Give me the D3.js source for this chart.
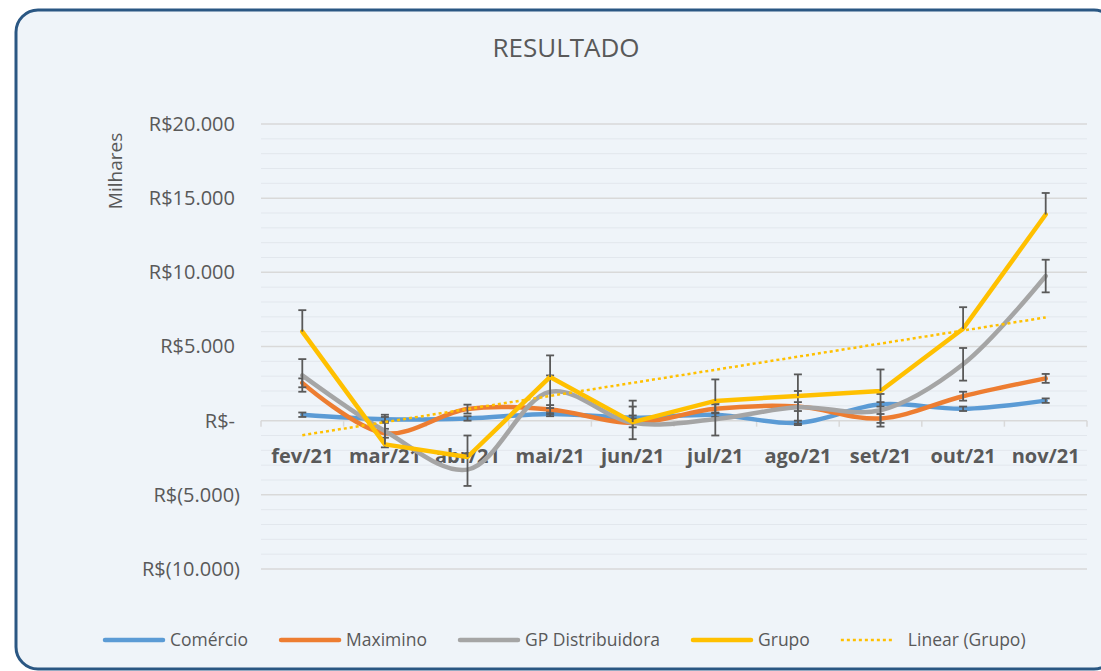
<!DOCTYPE html>
<html>
<head>
<meta charset="utf-8">
<script src="https://cdn.jsdelivr.net/npm/d3@7"></script>
<style>
  html, body { margin: 0; padding: 0; background: #fff; }
  svg { display: block; font-family: "Open Sans", sans-serif; }
</style>
</head>
<body>
<svg id="chart" width="1101" height="671"></svg>
<script>
// ==== DATA ====
const months = ["fev/21", "mar/21", "abr/21", "mai/21", "jun/21", "jul/21", "ago/21", "set/21", "out/21", "nov/21"];
const seriesNames = ["Comércio", "Maximino", "GP Distribuidora", "Grupo"];
const comercio = [400, 100, 150, 450, 200, 400, -150, 1100, 800, 1350];
const maximino = [2550, -850, 780, 750, -150, 800, 950, 150, 1650, 2850];
const gpDistribuidora = [3050, -700, -3300, 1950, -150, 100, 900, 700, 3800, 9750];
const grupo = [6000, -1600, -2450, 2950, -100, 1330, 1670, 2000, 6200, 13900];
const errPlus = [150, 300, 1100, 1450];
const errMinus = [150, 300, 1100, 0];
const yTicks = [-10000, -5000, 0, 5000, 10000, 15000, 20000];
const yMinorTicks = d3.range(-10000, 20001, 1000);

// ==== STYLE ====
const colors = ["#5b9bd5", "#ed7d31", "#a5a5a5", "#ffc000"];
const smooth = [true, true, true, false];
const textColor = "#595959";

const svg = d3.select("#chart");
const W = 1101, H = 671;
const plot = { left: 261, right: 1087, top: 124, bottom: 569 };

svg.append("rect").attr("width", W).attr("height", H).attr("fill", "#fff");
svg.append("rect")
  .attr("x", 16).attr("y", 10)
  .attr("width", 1100).attr("height", 659)
  .attr("rx", 22).attr("ry", 22)
  .attr("fill", "#eff4f9")
  .attr("stroke", "#2a5783")
  .attr("stroke-width", 3);

const x = d3.scaleBand().domain(months).range([plot.left, plot.right]).padding(0);
const cx = m => x(m) + x.bandwidth() / 2;
const y = d3.scaleLinear().domain([-10000, 20000]).range([plot.bottom, plot.top]);

// gridlines
svg.append("g").selectAll("line")
  .data(yMinorTicks.filter(v => v % 5000 !== 0))
  .join("line")
  .attr("x1", plot.left).attr("x2", plot.right)
  .attr("y1", d => y(d)).attr("y2", d => y(d))
  .attr("stroke", "#e2e7ed").attr("stroke-width", 1);

svg.append("g").selectAll("line")
  .data(yTicks.filter(v => v !== 0))
  .join("line")
  .attr("x1", plot.left).attr("x2", plot.right)
  .attr("y1", d => y(d)).attr("y2", d => y(d))
  .attr("stroke", "#d9d9d9").attr("stroke-width", 1.5);

// y labels
function fmtReal(v) {
  if (v === 0) return "R$-";
  const s = d3.format(",")(Math.abs(v)).replace(/,/g, ".");
  return v < 0 ? `R$(${s})` : `R$${s}`;
}
const yAxis = d3.axisLeft(y).tickValues(yTicks).tickFormat(fmtReal).tickSize(0).tickPadding(0);
const yAxisG = svg.append("g").attr("transform", `translate(${plot.left - 26},0)`).call(yAxis);
yAxisG.select(".domain").remove();
yAxisG.selectAll("text")
  .attr("fill", textColor)
  .style("font-size", "20px")
  .style("font-family", "'Open Sans', sans-serif")
  .attr("dx", d => d < 0 ? 5 : 0);

svg.append("text")
  .attr("transform", "translate(122,171) rotate(-90)")
  .attr("text-anchor", "middle")
  .attr("fill", textColor)
  .style("font-size", "19px")
  .text("Milhares");

// x axis at zero
const xAxisG = svg.append("g").attr("transform", `translate(0,${y(0)})`);
xAxisG.append("line")
  .attr("x1", plot.left).attr("x2", plot.right)
  .attr("stroke", "#d9d9d9").attr("stroke-width", 1.5);
xAxisG.selectAll("line.tick")
  .data(months.concat(["end"]))
  .join("line")
  .attr("class", "tick")
  .attr("x1", (d, i) => plot.left + i * x.bandwidth())
  .attr("x2", (d, i) => plot.left + i * x.bandwidth())
  .attr("y1", 0).attr("y2", 6)
  .attr("stroke", "#d9d9d9").attr("stroke-width", 1.5);

svg.append("g").selectAll("text")
  .data(months)
  .join("text")
  .attr("x", d => cx(d))
  .attr("y", 463)
  .attr("text-anchor", "middle")
  .attr("fill", textColor)
  .style("font-size", "20px")
  .style("font-weight", "bold")
  .text(d => d);

// title
svg.append("text")
  .attr("x", 566).attr("y", 57)
  .attr("text-anchor", "middle")
  .attr("fill", textColor)
  .style("font-size", "26px")
  .text("RESULTADO");

// series
const allSeries = [comercio, maximino, gpDistribuidora, grupo];
const seriesG = svg.append("g");

allSeries.forEach((vals, si) => {
  const pts = vals.map((v, i) => ({ m: months[i], v }));
  const line = d3.line()
    .x(d => cx(d.m))
    .y(d => y(d.v))
    .curve(smooth[si] ? d3.curveCatmullRom.alpha(0.5) : d3.curveLinear);

  seriesG.append("path")
    .datum(pts)
    .attr("d", line)
    .attr("fill", "none")
    .attr("stroke", colors[si])
    .attr("stroke-width", 4.5)
    .attr("stroke-linecap", "round")
    .attr("stroke-linejoin", "round");

  const eb = seriesG.append("g")
    .attr("stroke", textColor)
    .attr("stroke-width", 1.8)
    .attr("fill", "none");
  pts.forEach(d => {
    const xp = cx(d.m);
    const yTop = y(d.v + errPlus[si]);
    const yBot = y(d.v - errMinus[si]);
    eb.append("line").attr("x1", xp).attr("x2", xp).attr("y1", yTop).attr("y2", yBot);
    if (errPlus[si] > 0) {
      eb.append("line").attr("x1", xp - 4).attr("x2", xp + 4).attr("y1", yTop).attr("y2", yTop);
    }
    if (errMinus[si] > 0) {
      eb.append("line").attr("x1", xp - 4).attr("x2", xp + 4).attr("y1", yBot).attr("y2", yBot);
    }
  });
});

// linear trend (Grupo)
const xs = grupo.map((_, i) => i + 1);
const mx = d3.mean(xs), my = d3.mean(grupo);
const slope = d3.sum(xs, (xi, i) => (xi - mx) * (grupo[i] - my)) / d3.sum(xs, xi => (xi - mx) ** 2);
const intercept = my - slope * mx;
const trend = [
  { m: months[0], v: intercept + slope * 1 },
  { m: months[months.length - 1], v: intercept + slope * months.length }
];
seriesG.append("path")
  .datum(trend)
  .attr("d", d3.line().x(d => cx(d.m)).y(d => y(d.v)))
  .attr("fill", "none")
  .attr("stroke", colors[3])
  .attr("stroke-width", 2.5)
  .attr("stroke-dasharray", "3 3");

// legend
const legendItems = seriesNames.map((n, i) => ({ name: n, color: colors[i], dotted: false }))
  .concat([{ name: "Linear (Grupo)", color: colors[3], dotted: true }]);
const legendG = svg.append("g");
let lx = 103;
const ly = 640;
legendItems.forEach(item => {
  const sampleW = item.dotted ? 54 : 62;
  legendG.append("line")
    .attr("x1", lx + (item.dotted ? 0 : 2)).attr("x2", lx + sampleW - (item.dotted ? 0 : 2))
    .attr("y1", ly).attr("y2", ly)
    .attr("stroke", item.color)
    .attr("stroke-width", item.dotted ? 2.5 : 4.5)
    .attr("stroke-linecap", item.dotted ? "butt" : "round")
    .attr("stroke-dasharray", item.dotted ? "3 3" : null);
  const tx = lx + sampleW + (item.dotted ? 13 : 5);
  const t = legendG.append("text")
    .attr("x", tx).attr("y", ly + 6)
    .attr("fill", textColor)
    .style("font-size", "17.5px")
    .text(item.name);
  lx = tx + t.node().getComputedTextLength() + 31;
});
</script>
</body>
</html>
